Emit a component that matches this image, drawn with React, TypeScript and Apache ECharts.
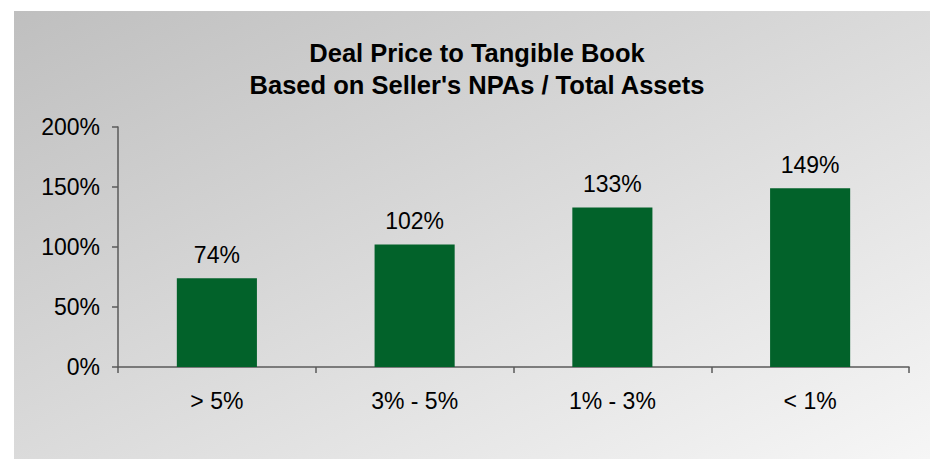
import React, { useEffect, useRef } from "react";
import * as echarts from "echarts";

const titleLines = ["Deal Price to Tangible Book", "Based on Seller's NPAs / Total Assets"];
const categories = ["> 5%", "3% - 5%", "1% - 3%", "< 1%"];
const values = [74, 102, 133, 149];
const yTicks = { min: 0, max: 200, interval: 50 };

export default function App() {
  const ref = useRef<HTMLDivElement>(null);
  useEffect(() => {
    if (!ref.current) return;
    const chart = echarts.init(ref.current, null, { renderer: "svg" });
    const font = "Liberation Sans, Arial, sans-serif";
    chart.setOption({
      animation: false,
      backgroundColor: "#ffffff",
      graphic: [
        {
          type: "rect",
          z: -10,
          shape: { x: 14, y: 11, width: 916, height: 448 },
          style: {
            fill: new echarts.graphic.LinearGradient(0, 0, 1, 1, [
              { offset: 0, color: "#bfbfbf" },
              { offset: 1, color: "#f6f6f6" },
            ]),
          },
          silent: true,
        },
      ],
      title: {
        text: titleLines.join("\n"),
        left: 472,
        textAlign: "center",
        top: 32,
        textStyle: {
          fontFamily: font,
          fontWeight: "bold",
          fontSize: 25.5,
          lineHeight: 32,
          color: "#000000",
        },
      },
      grid: { left: 118, right: 21, top: 127, bottom: 92, containLabel: false },
      xAxis: {
        type: "category",
        data: categories,
        axisLine: { lineStyle: { color: "#5a5a5a", width: 1.5 } },
        axisTick: { show: true, alignWithLabel: false, length: 6, lineStyle: { color: "#5a5a5a", width: 1.5 } },
        axisLabel: { fontFamily: font, fontSize: 23, color: "#000000", margin: 22 },
      },
      yAxis: {
        type: "value",
        min: yTicks.min,
        max: yTicks.max,
        interval: yTicks.interval,
        splitLine: { show: false },
        axisLine: { show: true, lineStyle: { color: "#5a5a5a", width: 1.5 } },
        axisTick: { show: true, length: 6, lineStyle: { color: "#5a5a5a", width: 1.5 } },
        axisLabel: { fontFamily: font, fontSize: 23, color: "#000000", margin: 18, formatter: "{value}%" },
      },
      series: [
        {
          type: "bar",
          data: values,
          barWidth: "40.5%",
          itemStyle: { color: "#02622a" },
          label: {
            show: true,
            position: "top",
            distance: 12,
            formatter: "{c}%",
            fontFamily: font,
            fontSize: 23,
            color: "#000000",
          },
        },
      ],
    });
    return () => chart.dispose();
  }, []);
  return (
    <div
      ref={ref}
      style={{ position: "absolute", left: 0, top: 0, width: 930, height: 459 }}
    />
  );
}
